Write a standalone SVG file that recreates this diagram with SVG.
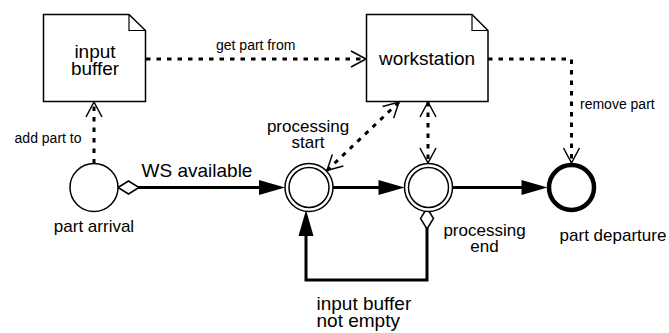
<svg xmlns="http://www.w3.org/2000/svg" width="669" height="333" viewBox="0 0 669 333">
  <style>
    text { font-family: "Liberation Sans", Arial, sans-serif; fill: #000; }
    .box { fill: #fff; stroke: #000; stroke-width: 1.5; stroke-linejoin: miter; }
    .fold { fill: none; stroke: #000; stroke-width: 1.2; }
    .node { fill: #fff; stroke: #000; stroke-width: 1.5; }
    .end { fill: #fff; stroke: #000; stroke-width: 4.5; }
    .t19 { font-size: 19px; }
    .t17 { font-size: 17px; }
    .t14 { font-size: 14px; }
    .mid { text-anchor: middle; }
    .solid { fill: none; stroke: #000; stroke-width: 3; }
    .dot { fill: none; stroke: #000; stroke-width: 3; stroke-dasharray: 4.5 6; }
  </style>
  <defs>
    <marker id="open" markerUnits="userSpaceOnUse" markerWidth="40" markerHeight="40" refX="0" refY="0" viewBox="-20 -20 40 40" orient="auto-start-reverse" overflow="visible">
      <path d="M-15,-8 L0,0 L-15,8" fill="none" stroke="#000" stroke-width="1.5"/>
    </marker>
    <marker id="filled" markerUnits="userSpaceOnUse" markerWidth="60" markerHeight="40" refX="0" refY="0" viewBox="-30 -20 60 40" orient="auto" overflow="visible">
      <path d="M-14,-7.5 L12,0 L-14,7.5 Z" fill="#000" stroke="none"/>
    </marker>
    <marker id="diamond" markerUnits="userSpaceOnUse" markerWidth="40" markerHeight="40" refX="0" refY="0" viewBox="-10 -20 40 40" orient="auto" overflow="visible">
      <path d="M0,0 L10.5,-6.5 L21,0 L10.5,6.5 Z" fill="#fff" stroke="#000" stroke-width="1.5"/>
    </marker>
  </defs>
  <rect width="669" height="333" fill="#fff"/>

  <g id="connectors">
    <!-- add part to -->
    <path class="dot" d="M94,163.5 L94,102" marker-end="url(#open)"/>
    <!-- get part from -->
    <path class="dot" d="M146,59 L366,59" marker-end="url(#open)"/>
    <!-- remove part -->
    <path class="dot" d="M488,59 L571.5,59 L571.5,163" marker-end="url(#open)"/>
    <!-- workstation <-> processing start -->
    <path class="dot" d="M327,170.5 L399,102" marker-start="url(#open)" marker-end="url(#open)"/>
    <!-- workstation <-> processing end -->
    <path class="dot" d="M428,102 L428,163" marker-start="url(#open)" marker-end="url(#open)"/>
    <!-- WS available -->
    <path class="solid" d="M118,187.5 L273,187.5" marker-start="url(#diamond)" marker-end="url(#filled)"/>
    <!-- processing start -> processing end -->
    <path class="solid" d="M333,187.5 L392.5,187.5" marker-end="url(#filled)"/>
    <!-- processing end -> part departure -->
    <path class="solid" d="M452.5,187.5 L535.5,187.5" marker-end="url(#filled)"/>
    <!-- input buffer not empty loop -->
    <path class="solid" d="M427,208 L427,280 L306,280 L306,222" marker-start="url(#diamond)" marker-end="url(#filled)"/>
    <text class="t14" x="81.5" y="143" text-anchor="end">add part to</text>
    <text class="t14" x="216" y="49.5">get part from</text>
    <text class="t14" x="580" y="108.5">remove part</text>
    <text class="t19" x="197" y="177" text-anchor="middle">WS available</text>
    <text class="t19" x="316.5" y="310">input buffer<tspan x="316.5" dy="17">not empty</tspan></text>
  </g>

  <g id="input-buffer">
    <path class="box" d="M43.5,14.5 L129,14.5 L145.5,30.5 L145.5,101.5 L43.5,101.5 Z"/>
    <path class="fold" d="M129,14.5 L129,30.5 L145.5,30.5"/>
    <text class="t19 mid" x="95" y="57.5">input<tspan x="95" dy="17.5">buffer</tspan></text>
  </g>

  <g id="workstation">
    <path class="box" d="M366.5,14.5 L472,14.5 L488,30.5 L488,101.5 L366.5,101.5 Z"/>
    <path class="fold" d="M472,14.5 L472,30.5 L488,30.5"/>
    <text class="t19 mid" x="427" y="65">workstation</text>
  </g>

  <g id="part-arrival">
    <circle class="node" cx="94" cy="187.5" r="24"/>
    <text class="t17 mid" x="94" y="231.5">part arrival</text>
  </g>

  <g id="processing-start">
    <circle class="node" cx="309" cy="187.5" r="24"/>
    <circle class="node" cx="309" cy="187.5" r="20"/>
    <text class="t17 mid" x="308" y="132">processing<tspan x="308" dy="16">start</tspan></text>
  </g>

  <g id="processing-end">
    <circle class="node" cx="428.5" cy="187.5" r="24"/>
    <circle class="node" cx="428.5" cy="187.5" r="20"/>
    <text class="t17 mid" x="484.5" y="236">processing<tspan x="484.5" dy="16">end</tspan></text>
  </g>

  <g id="part-departure">
    <circle class="end" cx="571.5" cy="187.5" r="22.5"/>
    <text class="t17 mid" x="613" y="240.5">part departure</text>
  </g>
</svg>
